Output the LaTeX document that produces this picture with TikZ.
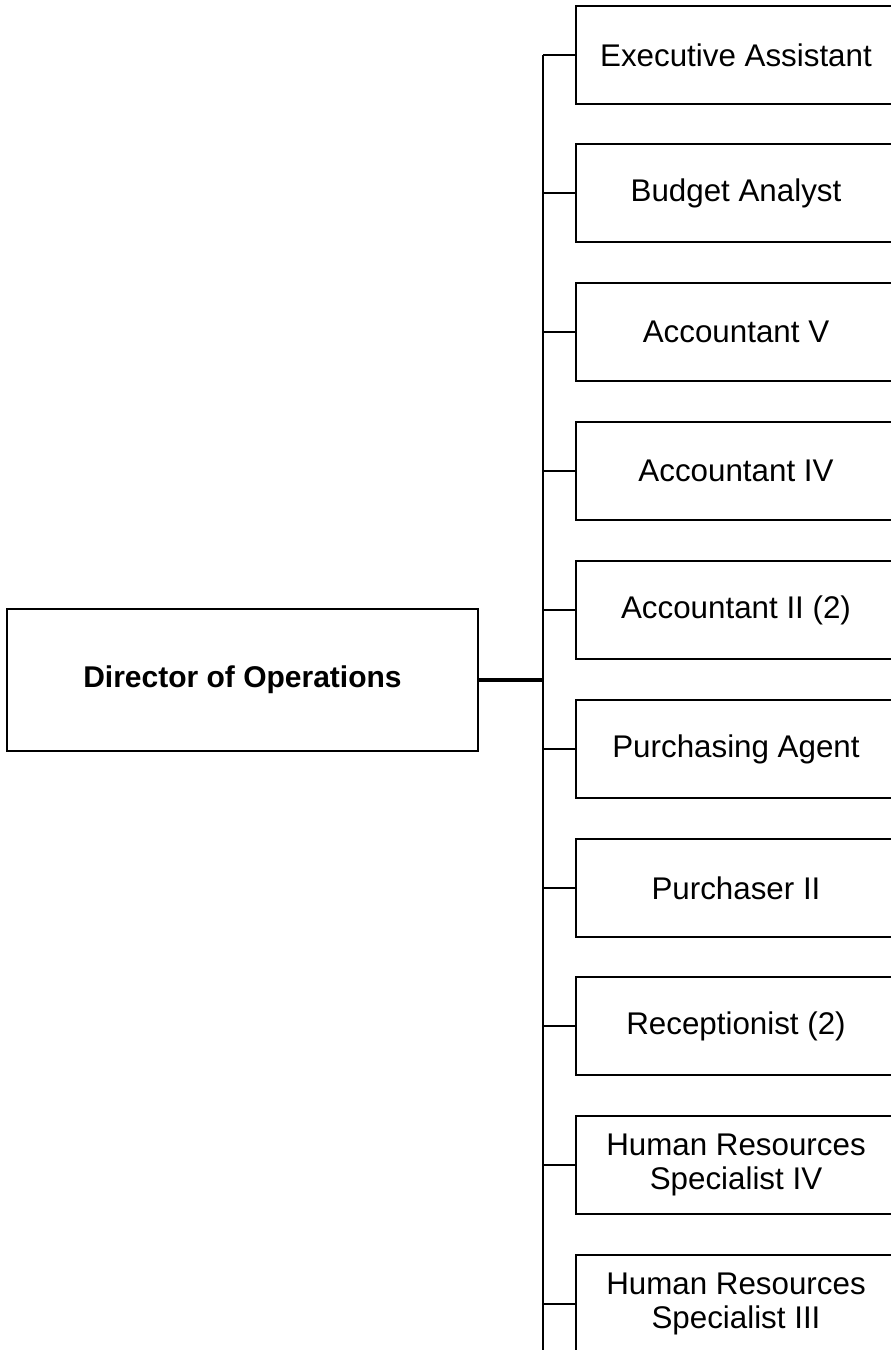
\documentclass[tikz,border=0pt]{standalone}
\usepackage{fontspec}
\setmainfont{Liberation Sans}
\begin{document}
\begin{tikzpicture}[x=0.75pt,y=0.75pt,yscale=-1,xscale=1,
  jobbox/.style={draw,line width=1.8pt,minimum width=240pt,minimum height=73.5pt,inner sep=0pt,align=center,font=\fontsize{23.5}{25}\selectfont},
  headbox/.style={draw,line width=1.8pt,minimum width=353pt,minimum height=106.5pt,inner sep=0pt,align=center,font=\fontsize{22.5}{24}\selectfont\bfseries},
  link/.style={line width=1.8pt}]
%set diagram to 891 x 1350, boxes run past the right and bottom edges
\clip (0,0) rectangle (891,1350);
\useasboundingbox (0,0) rectangle (891,1350);

%Shape: Director
\node [headbox] (dir) at (242.5,680) {Director of Operations};

% Text Node
\node [jobbox] (c1) at (736,55) {Executive Assistant};
% Text Node
\node [jobbox] (c2) at (736,193) {Budget Analyst};
% Text Node
\node [jobbox] (c3) at (736,332) {Accountant V};
% Text Node
\node [jobbox] (c4) at (736,471) {Accountant IV};
% Text Node
\node [jobbox] (c5) at (736,610) {Accountant II (2)};
% Text Node
\node [jobbox] (c6) at (736,749) {Purchasing Agent};
% Text Node
\node [jobbox] (c7) at (736,888) {Purchaser II};
% Text Node
\node [jobbox] (c8) at (736,1026) {Receptionist (2)};
% Text Node
\node [jobbox] (c9) at (736,1165) {Human Resources\\Specialist IV};
% Text Node
\node [jobbox] (c10) at (736,1304) {Human Resources\\Specialist III};

% Connection: trunk
\coordinate (trunktop) at (543,55);
\coordinate (trunkbot) at (543,1352);
\draw [link] (trunktop) -- (trunkbot);
\draw [line width=2.6pt] (dir.east) -- (dir.east -| trunktop);

% Connection: branches
\draw [link] (c1.west -| trunktop) -- (c1.west);
\draw [link] (c2.west -| trunktop) -- (c2.west);
\draw [link] (c3.west -| trunktop) -- (c3.west);
\draw [link] (c4.west -| trunktop) -- (c4.west);
\draw [link] (c5.west -| trunktop) -- (c5.west);
\draw [link] (c6.west -| trunktop) -- (c6.west);
\draw [link] (c7.west -| trunktop) -- (c7.west);
\draw [link] (c8.west -| trunktop) -- (c8.west);
\draw [link] (c9.west -| trunktop) -- (c9.west);
\draw [link] (c10.west -| trunktop) -- (c10.west);

\end{tikzpicture}
\end{document}
